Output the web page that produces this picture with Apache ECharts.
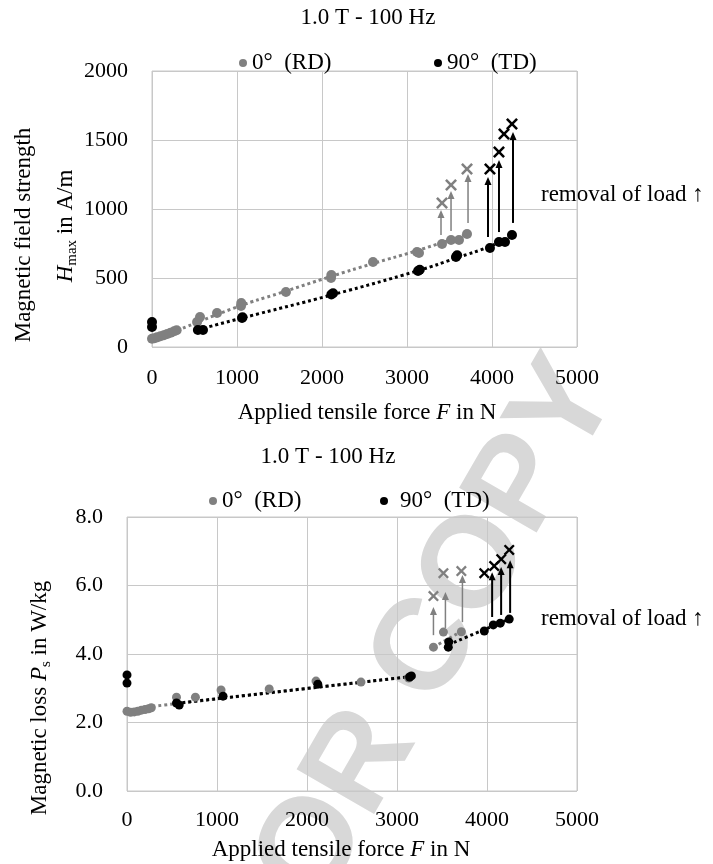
<!DOCTYPE html>
<html><head><meta charset="utf-8">
<script src="https://cdn.jsdelivr.net/npm/echarts@6/dist/echarts.min.js"></script>
<style>html,body{margin:0;padding:0;background:#fff}#c{width:713px;height:864px}</style>
</head><body><div id="c"></div>
<script>
// ---------- Top chart: H_max vs force ----------
const xTicks = [0, 1000, 2000, 3000, 4000, 5000];
const hTicks = [0, 500, 1000, 1500, 2000];
const pTicks = [0.0, 2.0, 4.0, 6.0, 8.0];

const hRdF = [0, 30, 60, 100, 140, 180, 220, 260, 290, 530, 565, 765, 1047, 1050, 1576, 2106, 2110, 2600, 3118, 3141, 3412, 3518, 3612, 3706];
const hRdH = [60, 64, 70, 78, 86, 95, 104, 114, 122, 181, 217, 246, 297, 319, 399, 500, 522, 616, 688, 681, 746, 775, 775, 819];
const hTdF = [0, 0, 540, 600, 1059, 1065, 2110, 2130, 3130, 3150, 3576, 3590, 3976, 4082, 4153, 4235];
const hTdH = [181, 145, 123, 123, 210, 215, 380, 390, 551, 560, 652, 665, 717, 761, 761, 812];
const hRdXF = [3412, 3518, 3706];
const hRdXH = [1043, 1174, 1290];
const hTdXF = [3976, 4082, 4141, 4235];
const hTdXH = [1290, 1413, 1543, 1616];
const hRdTrendF = [300, 1000, 1500, 2100, 2600, 3100, 3700];
const hRdTrendH = [120, 290, 390, 510, 605, 695, 815];
const hTdTrendF = [540, 1060, 2130, 3140, 3580, 3980, 4235];
const hTdTrendH = [125, 210, 380, 555, 645, 730, 805];
const hRdArrF = [3400, 3518, 3718];
const hRdArrFrom = [812, 841, 899];
const hRdArrTo = [993, 1130, 1254];
const hTdArrF = [3953, 4082, 4247];
const hTdArrFrom = [797, 833, 899];
const hTdArrTo = [1232, 1355, 1558];

// ---------- Bottom chart: P_s vs force ----------
const pRdF = [0, 40, 80, 120, 160, 200, 240, 270, 550, 760, 1045, 1580, 2100, 2600, 3130, 3405, 3516, 3715];
const pRdP = [2.33, 2.30, 2.31, 2.33, 2.36, 2.38, 2.40, 2.43, 2.74, 2.74, 2.95, 2.98, 3.21, 3.18, 3.30, 4.20, 4.64, 4.65];
const pTdF = [0, 0, 550, 580, 1067, 2120, 3140, 3160, 3570, 3575, 3970, 4070, 4147, 4247];
const pTdP = [3.39, 3.15, 2.57, 2.51, 2.77, 3.12, 3.33, 3.36, 4.20, 4.35, 4.67, 4.85, 4.90, 5.02];
const pRdXF = [3405, 3516, 3715];
const pRdXP = [5.69, 6.36, 6.42];
const pTdXF = [3970, 4080, 4158, 4247];
const pTdXP = [6.36, 6.57, 6.77, 7.04];
const pRdTrendF = [150, 3150];
const pRdTrendP = [2.43, 3.34];
const pRdTrend2F = [3405, 3715];
const pRdTrend2P = [4.20, 4.66];
const pTdTrendF = [550, 3150];
const pTdTrendP = [2.56, 3.34];
const pTdTrend2F = [3570, 4247];
const pTdTrend2P = [4.27, 5.02];
const pRdArrF = [3405, 3538, 3727];
const pRdArrFrom = [4.55, 4.76, 4.93];
const pRdArrTo = [5.37, 5.81, 6.31];
const pTdArrF = [4057, 4157, 4257];
const pTdArrFrom = [5.08, 5.14, 5.20];
const pTdArrTo = [6.39, 6.54, 6.74];

const titleText = '1.0 T - 100 Hz';
const rdName = '0°  (RD)';
const tdName = '90°  (TD)';
const xName = 'Applied tensile force {i|F} in N';
const hName1 = 'Magnetic field strength';
const hName2 = '{i|H}{s|max} in A/m';
const pName = 'Magnetic loss {i|P}{s|s} in W/kg';
const noteText = 'removal of load {a|↑}';
const watermark = 'AUTHOR COPY';

// ---------- build ----------
const FONT = 'Liberation Serif';
const GRAY = '#808080';
const GRID = '#c8c8c8';
const zip = (a, b) => a.map((v, i) => [v, b[i]]);
const zip3 = (a, b, c) => a.map((v, i) => [v, b[i], c[i]]);
const crossPath = 'path://M0,1.5L1.5,0L5,3.5L8.5,0L10,1.5L6.5,5L10,8.5L8.5,10L5,6.5L1.5,10L0,8.5L3.5,5Z';
const richBase = {
  i: {fontStyle: 'italic', fontFamily: FONT, fontSize: 23, color: '#000'},
  s: {fontFamily: FONT, fontSize: 15, color: '#000', padding: [12, 0, 0, 0]},
  a: {fontFamily: FONT, fontSize: 23, color: GRAY}
};

function arrowRender(color, lw, head) {
  return function (params, api) {
    const x = api.value(0), y0 = api.value(1), y1 = api.value(2);
    const p0 = api.coord([x, y0]), p1 = api.coord([x, y1]);
    return {type: 'group', children: [
      {type: 'line', shape: {x1: p0[0], y1: p0[1], x2: p1[0], y2: p1[1] + head - 1}, style: {stroke: color, lineWidth: lw}},
      {type: 'polygon', shape: {points: [[p1[0], p1[1]], [p1[0] - 3.5, p1[1] + head], [p1[0] + 3.5, p1[1] + head]]}, style: {fill: color}}
    ]};
  };
}

function xAx(gi, margin) {
  return {gridIndex: gi, type: 'value', min: xTicks[0], max: xTicks[xTicks.length - 1], interval: 1000,
    axisLine: {show: false}, axisTick: {show: false},
    splitLine: {show: true, lineStyle: {color: GRID, width: 1}},
    axisLabel: {margin: margin, fontFamily: FONT, fontSize: 22, color: '#000', formatter: v => String(v)}};
}
function yAx(gi, ticks, interval, fmt) {
  return {gridIndex: gi, type: 'value', min: ticks[0], max: ticks[ticks.length - 1], interval: interval,
    axisLine: {show: false}, axisTick: {show: false},
    splitLine: {show: true, lineStyle: {color: GRID, width: 1}},
    axisLabel: {margin: 24, fontFamily: FONT, fontSize: 22, color: '#000', formatter: fmt}};
}
function scat(name, gi, data, color, size, symbol) {
  return {name: name, type: 'scatter', xAxisIndex: gi, yAxisIndex: gi, data: data, symbol: symbol || 'circle',
    symbolSize: size, itemStyle: {color: color, opacity: 1}, z: 5, silent: true};
}
function trend(gi, data, color) {
  return {type: 'line', xAxisIndex: gi, yAxisIndex: gi, data: data, smooth: true, showSymbol: false, symbol: 'none',
    lineStyle: {color: color, width: 3, type: [3, 3]}, z: 4, silent: true};
}
function arrows(gi, data, color, lw) {
  return {type: 'custom', xAxisIndex: gi, yAxisIndex: gi, data: data, renderItem: arrowRender(color, lw, 8),
    encode: {x: 0, y: [1, 2]}, z: 6, silent: true};
}
function legendAt(name, left, top, color, pad) {
  return {data: [{name: name, itemStyle: {color: color}}], left: left, top: top, icon: 'circle', itemWidth: 8, itemHeight: 8,
    selectedMode: false, textStyle: {fontFamily: FONT, fontSize: 23, color: '#000', lineHeight: 24, padding: [0, 0, 0, pad]}};
}
function txt(x, y, text, opts) {
  return Object.assign({type: 'text', x: x, y: y, silent: true, z: 10,
    style: Object.assign({text: text, font: '23px "' + FONT + '"', fill: '#000', textAlign: 'center', textVerticalAlign: 'middle', rich: richBase}, opts || {})});
}

const option = {
  animation: false,
  backgroundColor: '#fff',
  grid: [
    {left: 152, top: 71, width: 425, height: 276, show: true, borderColor: GRID, borderWidth: 1, backgroundColor: 'transparent'},
    {left: 127, top: 517, width: 450, height: 274, show: true, borderColor: GRID, borderWidth: 1, backgroundColor: 'transparent'}
  ],
  xAxis: [xAx(0, 20), xAx(1, 18)],
  yAxis: [yAx(0, hTicks, 500, v => String(v)), yAx(1, pTicks, 2, v => v.toFixed(1))],
  legend: [
    legendAt(rdName, 234, 46, GRAY, 0),
    legendAt(tdName, 429, 46, '#000', 0),
    legendAt(rdName, 204, 484, GRAY, 0),
    legendAt(tdName, 375, 484, '#000', 7)
  ],
  series: [
    trend(0, zip(hRdTrendF, hRdTrendH), GRAY),
    trend(0, zip(hTdTrendF, hTdTrendH), '#000'),
    scat(rdName, 0, zip(hRdF, hRdH), GRAY, 10),
    scat(tdName, 0, zip(hTdF, hTdH), '#000', 10),
    scat('rdX', 0, zip(hRdXF, hRdXH), GRAY, 12, crossPath),
    scat('tdX', 0, zip(hTdXF, hTdXH), '#000', 12, crossPath),
    arrows(0, zip3(hRdArrF, hRdArrFrom, hRdArrTo), GRAY, 1.5),
    arrows(0, zip3(hTdArrF, hTdArrFrom, hTdArrTo), '#000', 2),

    trend(1, zip(pRdTrendF, pRdTrendP), GRAY),
    trend(1, zip(pRdTrend2F, pRdTrend2P), GRAY),
    trend(1, zip(pTdTrendF, pTdTrendP), '#000'),
    trend(1, zip(pTdTrend2F, pTdTrend2P), '#000'),
    scat(rdName, 1, zip(pRdF, pRdP), GRAY, 9),
    scat(tdName, 1, zip(pTdF, pTdP), '#000', 9),
    scat('rdX2', 1, zip(pRdXF, pRdXP), GRAY, 11, crossPath),
    scat('tdX2', 1, zip(pTdXF, pTdXP), '#000', 11, crossPath),
    arrows(1, zip3(pRdArrF, pRdArrFrom, pRdArrTo), GRAY, 1.5),
    arrows(1, zip3(pTdArrF, pTdArrFrom, pTdArrTo), '#000', 2)
  ],
  graphic: [
    {type: 'group', x: 588, y: 372, rotation: 60 * Math.PI / 180, z: -10, silent: true, children: [
      {type: 'text', x: 0, y: 0, z: -10, style: {text: watermark, font: 'bold 130px "Liberation Sans"', fill: '#d8d8d8', textAlign: 'right', textVerticalAlign: 'middle'}}
    ]},
    txt(368, 18, titleText),
    txt(328, 457, titleText),
    txt(367, 413, xName),
    txt(341, 850, xName),
    txt(24, 235, hName1, {}),
    txt(66, 226, hName2, {}),
    txt(40, 698, pName, {}),
    txt(541, 195, noteText, {textAlign: 'left'}),
    txt(541, 619, noteText, {textAlign: 'left'})
  ]
};
// rotate y-axis names
[5, 6, 7].forEach(i => { option.graphic[i].rotation = Math.PI / 2; });

const chart = echarts.init(document.getElementById('c'), null, {renderer: 'canvas'});
chart.setOption(option);
</script></body></html>
